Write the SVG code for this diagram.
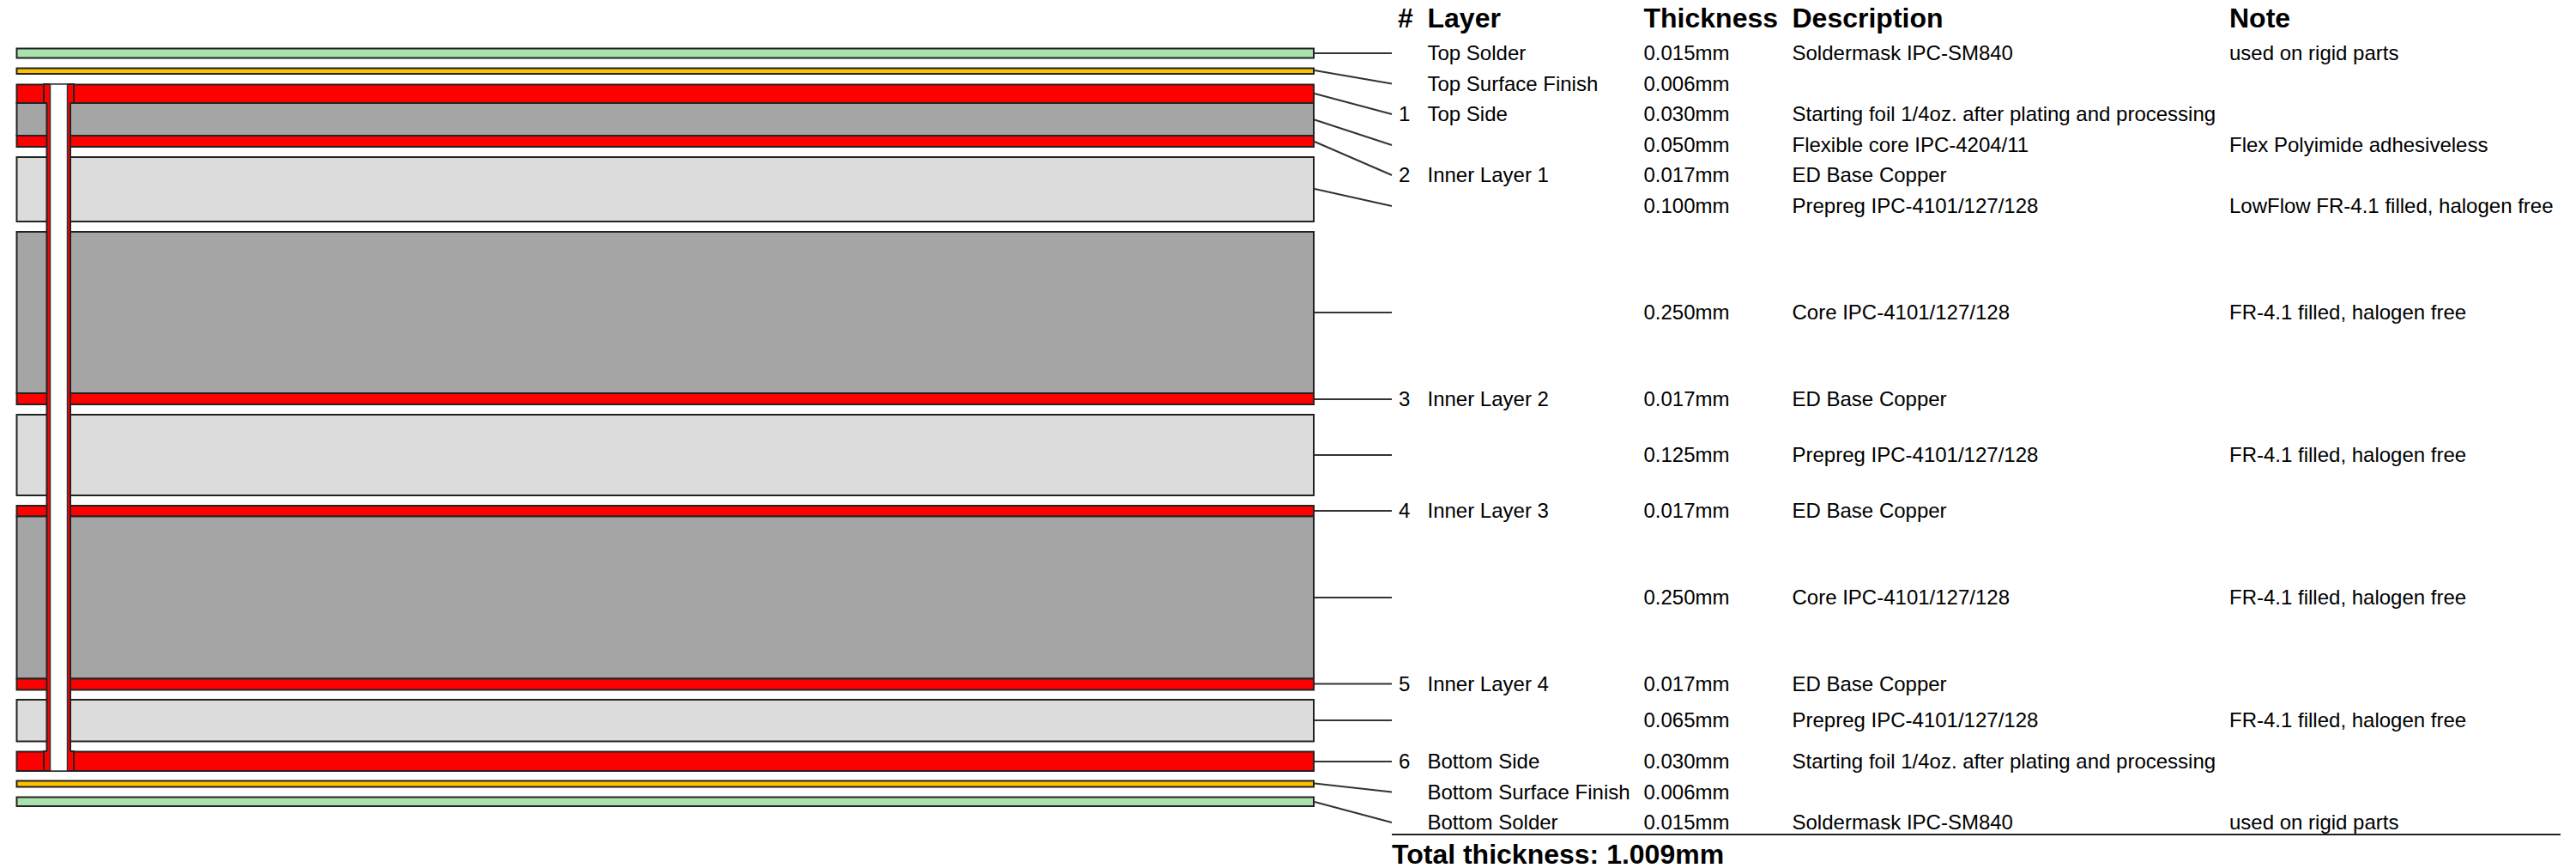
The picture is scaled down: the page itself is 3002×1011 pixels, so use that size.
<svg xmlns="http://www.w3.org/2000/svg" width="3002" height="1011" viewBox="0 0 3002 1011">
<style>
text{font-family:"Liberation Sans",Arial,sans-serif;font-size:24px;fill:#000}
.h{font-size:32px;font-weight:bold}
.l{stroke:#222;stroke-width:2}
.solder{fill:#a8e2ad}.finish{fill:#ffc000}.copper{fill:#f00}.core{fill:#a5a5a5}.prepreg{fill:#dcdcdc}
.c{stroke:#333;stroke-width:2;fill:none}
.v{stroke:#222;stroke-width:2;fill:none}
</style>
<rect width="3002" height="1011" fill="#fff"/>
<g id="stackup">
<g id="layer-top-solder"><rect class="l solder" x="19.5" y="56.5" width="1511.5" height="11"/></g>
<g id="layer-top-finish"><rect class="l finish" x="19.5" y="79.5" width="1511.5" height="6.5"/></g>
<g id="layer-top-side"><rect class="l copper" x="19.5" y="98.5" width="1511.5" height="21.5"/></g>
<g id="layer-flex-core"><rect class="l core" x="19.5" y="120" width="1511.5" height="38"/></g>
<g id="layer-inner-1"><rect class="l copper" x="19.5" y="158" width="1511.5" height="13"/></g>
<g id="layer-prepreg-1"><rect class="l prepreg" x="19.5" y="183" width="1511.5" height="75"/></g>
<g id="layer-core-1"><rect class="l core" x="19.5" y="270" width="1511.5" height="188"/></g>
<g id="layer-inner-2"><rect class="l copper" x="19.5" y="458" width="1511.5" height="13"/></g>
<g id="layer-prepreg-2"><rect class="l prepreg" x="19.5" y="483" width="1511.5" height="94"/></g>
<g id="layer-inner-3"><rect class="l copper" x="19.5" y="589" width="1511.5" height="12.500"/></g>
<g id="layer-core-2"><rect class="l core" x="19.5" y="601.500" width="1511.5" height="189"/></g>
<g id="layer-inner-4"><rect class="l copper" x="19.5" y="790.5" width="1511.5" height="13"/></g>
<g id="layer-prepreg-3"><rect class="l prepreg" x="19.5" y="815" width="1511.5" height="48.5"/></g>
<g id="layer-bottom-side"><rect class="l copper" x="19.5" y="875.5" width="1511.5" height="22.5"/></g>
<g id="layer-bottom-finish"><rect class="l finish" x="19.5" y="909.5" width="1511.5" height="7"/></g>
<g id="layer-bottom-solder"><rect class="l solder" x="19.5" y="928.5" width="1511.5" height="10.5"/></g>
</g>
<g id="via">
<rect x="54" y="98" width="29" height="800" fill="#f00"/>
<path class="v" d="M54.5 120V875M82 120V875"/>
<rect x="51" y="98" width="35" height="22" fill="#f00"/>
<rect x="51" y="875" width="35" height="23" fill="#f00"/>
<path class="v" d="M54.5 120H51V98H58.5M78.5 98H86V120H82M54.5 875H51V898H58.5M78.5 898H86V875H82"/>
<rect x="58.5" y="98" width="20" height="800" fill="#fff" stroke="#333" stroke-width="1.5"/>
</g>
<g id="connectors">
<path class="c" d="M1532 62H1622"/>
<path class="c" d="M1532 82L1622 97.5"/>
<path class="c" d="M1532 109L1622 133"/>
<path class="c" d="M1532 139.5L1622 169"/>
<path class="c" d="M1532 165L1622 204"/>
<path class="c" d="M1532 220L1622 240"/>
<path class="c" d="M1532 364H1622"/>
<path class="c" d="M1532 465H1622"/>
<path class="c" d="M1532 530H1622"/>
<path class="c" d="M1532 595H1622"/>
<path class="c" d="M1532 696H1622"/>
<path class="c" d="M1532 796.5H1622"/>
<path class="c" d="M1532 839H1622"/>
<path class="c" d="M1532 887H1622"/>
<path class="c" d="M1532 912.5L1622 922.5"/>
<path class="c" d="M1532 934L1622 958"/>
<path d="M1622 972H2984" stroke="#222" stroke-width="2"/>
</g>
<g id="table-header">
<text class="h" x="1629" y="32">#</text>
<text class="h" x="1663.5" y="32">Layer</text>
<text class="h" x="1915.5" y="32">Thickness</text>
<text class="h" x="2088.5" y="32">Description</text>
<text class="h" x="2598" y="32">Note</text>
</g>
<g id="row-1"><text x="1663.5" y="70">Top Solder</text><text x="1915.5" y="70">0.015mm</text><text x="2088.5" y="70">Soldermask IPC-SM840</text><text x="2598" y="70">used on rigid parts</text></g>
<g id="row-2"><text x="1663.5" y="105.500">Top Surface Finish</text><text x="1915.5" y="105.500">0.006mm</text></g>
<g id="row-3"><text x="1630" y="141">1</text><text x="1663.5" y="141">Top Side</text><text x="1915.5" y="141">0.030mm</text><text x="2088.5" y="141">Starting foil 1/4oz. after plating and processing</text></g>
<g id="row-4"><text x="1915.5" y="177">0.050mm</text><text x="2088.5" y="177">Flexible core IPC-4204/11</text><text x="2598" y="177">Flex Polyimide adhesiveless</text></g>
<g id="row-5"><text x="1630" y="212">2</text><text x="1663.5" y="212">Inner Layer 1</text><text x="1915.5" y="212">0.017mm</text><text x="2088.5" y="212">ED Base Copper</text></g>
<g id="row-6"><text x="1915.5" y="248">0.100mm</text><text x="2088.5" y="248">Prepreg IPC-4101/127/128</text><text x="2598" y="248">LowFlow FR-4.1 filled, halogen free</text></g>
<g id="row-7"><text x="1915.5" y="372">0.250mm</text><text x="2088.5" y="372">Core IPC-4101/127/128</text><text x="2598" y="372">FR-4.1 filled, halogen free</text></g>
<g id="row-8"><text x="1630" y="473">3</text><text x="1663.5" y="473">Inner Layer 2</text><text x="1915.5" y="473">0.017mm</text><text x="2088.5" y="473">ED Base Copper</text></g>
<g id="row-9"><text x="1915.5" y="538">0.125mm</text><text x="2088.5" y="538">Prepreg IPC-4101/127/128</text><text x="2598" y="538">FR-4.1 filled, halogen free</text></g>
<g id="row-10"><text x="1630" y="603">4</text><text x="1663.5" y="603">Inner Layer 3</text><text x="1915.5" y="603">0.017mm</text><text x="2088.5" y="603">ED Base Copper</text></g>
<g id="row-11"><text x="1915.5" y="704">0.250mm</text><text x="2088.5" y="704">Core IPC-4101/127/128</text><text x="2598" y="704">FR-4.1 filled, halogen free</text></g>
<g id="row-12"><text x="1630" y="805">5</text><text x="1663.5" y="805">Inner Layer 4</text><text x="1915.5" y="805">0.017mm</text><text x="2088.5" y="805">ED Base Copper</text></g>
<g id="row-13"><text x="1915.5" y="847">0.065mm</text><text x="2088.5" y="847">Prepreg IPC-4101/127/128</text><text x="2598" y="847">FR-4.1 filled, halogen free</text></g>
<g id="row-14"><text x="1630" y="895">6</text><text x="1663.5" y="895">Bottom Side</text><text x="1915.5" y="895">0.030mm</text><text x="2088.5" y="895">Starting foil 1/4oz. after plating and processing</text></g>
<g id="row-15"><text x="1663.5" y="930.500">Bottom Surface Finish</text><text x="1915.5" y="930.500">0.006mm</text></g>
<g id="row-16"><text x="1663.5" y="966">Bottom Solder</text><text x="1915.5" y="966">0.015mm</text><text x="2088.5" y="966">Soldermask IPC-SM840</text><text x="2598" y="966">used on rigid parts</text></g>
<g id="total"><text class="h" x="1622" y="1006">Total thickness: 1.009mm</text></g>
</svg>
